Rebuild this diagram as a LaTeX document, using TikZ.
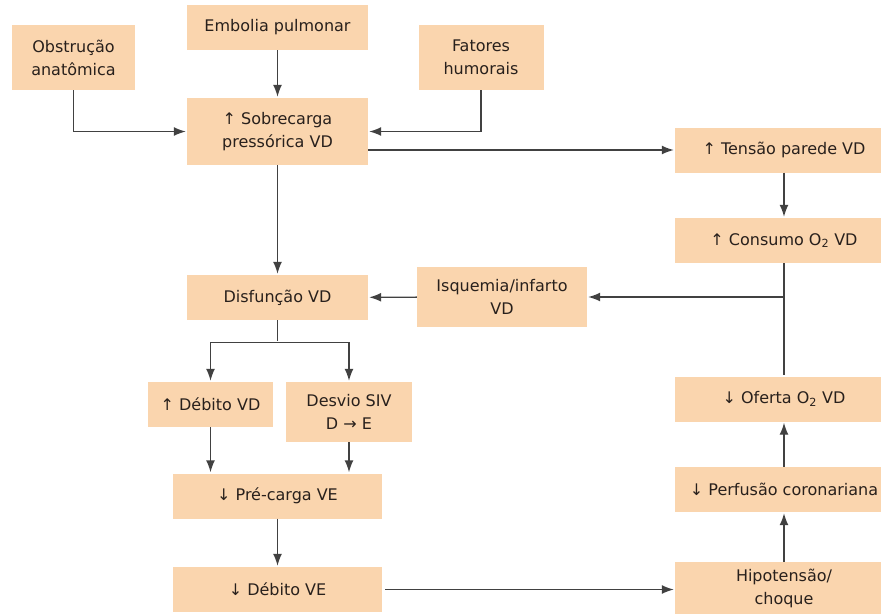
\documentclass[tikz,border=0pt]{standalone}
\usepackage{fontspec}
\setmainfont{DejaVu Sans}
\usetikzlibrary{arrows.meta,positioning}

\definecolor{peach}{RGB}{250,213,174}
\definecolor{ink}{RGB}{40,32,28}
\definecolor{wire}{RGB}{65,65,65}

\begin{document}
\begin{tikzpicture}[x=1pt,y=-1pt,>={Latex[length=12pt,width=9pt]},shorten >=1pt,
    box/.style={fill=peach,text=ink,align=center,inner sep=2pt,minimum height=45pt,
      font=\fontsize{16}{23}\selectfont},
    flow/.style={draw=wire,line width=1.4pt}]
  \useasboundingbox (0,0) rectangle (881,614);

  % causes
  \node[box,minimum width=123pt,minimum height=65pt] (obs) at (73.5,57.5) {Obstrução\\anatômica};
  \node[box,minimum width=181pt] (emb) at (277.5,27.5) {Embolia pulmonar};
  \node[box,minimum width=125pt,minimum height=65pt] (fat) at (481,57.5) {Fatores\\humorais};
  \node[box,minimum width=181pt,minimum height=67pt] (sob) at (277.5,131.5) {↑ Sobrecarga\\pressórica VD};

  % left column
  \node[box,minimum width=181pt] (dis) at (277.5,297.5) {Disfunção VD};
  \node[box,minimum width=170pt,minimum height=60pt] (isq) at (502,297) {Isquemia/infarto\\VD};
  \node[box,minimum width=125pt] (dvd) at (210.5,404.5) {↑ Débito VD};
  \node[box,minimum width=126pt,minimum height=60pt] (des) at (349,412) {Desvio SIV\\D → E};
  \node[box,minimum width=209pt] (pre) at (277.5,496) {↓ Pré-carga VE};
  \node[box,minimum width=209pt] (dve) at (277.5,589.5) {↓ Débito VE};

  % right column
  \node[box,minimum width=218pt] (ten) at (784,150) {↑ Tensão parede VD};
  \node[box,minimum width=218pt] (con) at (784,240.5) {↑ Consumo O\textsubscript{2} VD};
  \node[box,minimum width=218pt] (ofe) at (784,399) {↓ Oferta O\textsubscript{2} VD};
  \node[box,minimum width=218pt] (per) at (784,489.5) {↓ Perfusão coronariana};
  \node[box,minimum width=218pt,minimum height=52pt] (hip) at (784,588) {Hipotensão/\\choque};

  \coordinate (j) at (con.south |- isq.east);
  \coordinate[below=22pt of dis] (fork);

  \draw[flow,->] (obs.south) |- (sob.west);
  \draw[flow,->] (emb) -- (sob);
  \draw[flow,->] (fat.south) |- (sob.east);
  \draw[flow,->] (sob.east |- ten.west) -- (ten.west);
  \draw[flow,->] (sob) -- (dis);
  \draw[flow,->] (ten) -- (con);
  \draw[flow] (con) -- (j) -- (ofe);
  \draw[flow,->] (j) -- (isq);
  \draw[flow,->] (isq) -- (dis);
  \draw[flow] (dis) -- (fork);
  \draw[flow,->] (fork) -| (dvd);
  \draw[flow,->] (fork) -| (des);
  \draw[flow,->] (dvd) -- (dvd.south |- pre.north);
  \draw[flow,->] (des) -- (des.south |- pre.north);
  \draw[flow,->] (pre) -- (dve);
  \draw[flow,->,shorten <=3pt] (dve.east) -- (dve.east -| hip.west);
  \draw[flow,->] (hip) -- (per);
  \draw[flow,->] (per) -- (ofe);
\end{tikzpicture}
\end{document}
